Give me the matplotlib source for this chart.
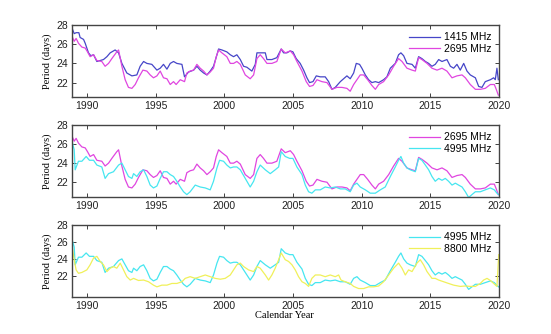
import matplotlib
matplotlib.use("Agg")
import matplotlib.pyplot as plt

# ---- data ----
yr_1415 = [1988.93, 1989.08, 1989.22, 1989.42, 1989.51, 1989.76, 1989.88, 1990.12, 1990.29, 1990.49,
           1990.73, 1990.97, 1991.21, 1991.46, 1991.70, 1992.06, 1992.31, 1992.55, 1992.91, 1993.28,
           1993.64, 1993.88, 1994.13, 1994.37, 1994.73, 1995.10, 1995.34, 1995.58, 1995.83, 1996.07,
           1996.31, 1996.55, 1996.92, 1997.11, 1997.40, 1997.77, 1998.01, 1998.25, 1998.50, 1998.74,
           1998.98, 1999.22, 1999.47, 1999.59, 1999.83, 2000.19, 2000.44, 2000.68, 2000.92, 2001.17,
           2001.41, 2001.65, 2002.01, 2002.26, 2002.38, 2002.62, 2002.99, 2003.11, 2003.47, 2003.83,
           2004.15, 2004.32, 2004.56, 2004.81, 2005.00, 2005.24, 2005.53, 2005.78, 2006.02, 2006.21,
           2006.46, 2006.70, 2006.99, 2007.35, 2007.60, 2007.84, 2008.08, 2008.45, 2008.69, 2008.93,
           2009.17, 2009.42, 2009.61, 2009.85, 2010.02, 2010.27, 2010.51, 2010.75, 2011.00, 2011.24,
           2011.60, 2011.84, 2012.09, 2012.45, 2012.69, 2012.86, 2013.06, 2013.30, 2013.67, 2013.91,
           2014.15, 2014.39, 2014.64, 2014.88, 2015.12, 2015.36, 2015.61, 2015.85, 2016.21, 2016.46,
           2016.70, 2016.94, 2017.18, 2017.43, 2017.67, 2017.91, 2018.28, 2018.52, 2018.76, 2019.00,
           2019.37, 2019.61, 2019.73, 2019.85, 2019.95]
p_1415 = [27.65, 27.1, 27.2, 27.2, 26.7, 26.5, 26.1, 25.1, 24.8, 24.9,
          24.2, 24.3, 24.4, 24.7, 25.1, 25.4, 25.1, 24.0, 23.0, 22.7,
          22.8, 23.7, 24.2, 24.0, 23.9, 23.3, 23.5, 23.9, 23.4, 24.0,
          24.2, 24.0, 23.9, 22.6, 23.1, 23.3, 23.7, 23.3, 23.0, 22.8,
          23.2, 23.7, 24.9, 25.5, 25.4, 25.2, 24.9, 24.7, 24.9, 24.4,
          23.7, 23.6, 23.2, 23.9, 25.1, 25.1, 25.1, 24.4, 24.4, 24.6,
          25.5, 25.1, 25.1, 25.3, 25.2, 24.5, 24.0, 23.3, 22.5, 22.0,
          22.1, 22.7, 22.6, 22.6, 22.1, 21.3, 21.5, 22.1, 22.4, 22.7,
          22.4, 23.0, 24.0, 23.9, 23.5, 22.8, 22.3, 22.0, 22.1, 22.0,
          22.3, 22.6, 23.5, 24.0, 24.9, 25.1, 24.8, 24.0, 23.9, 23.5,
          24.7, 24.5, 24.2, 24.0, 23.7, 23.9, 24.4, 24.2, 24.4, 23.7,
          23.5, 23.9, 23.3, 24.0, 23.2, 22.8, 22.5, 21.6, 21.5, 22.1,
          22.3, 22.5, 22.3, 23.5, 22.3]

yr_2695 = [1988.93, 1989.08, 1989.22, 1989.39, 1989.64, 1989.88, 1990.05, 1990.24, 1990.49, 1990.73,
           1991.09, 1991.33, 1991.58, 1991.82, 1992.18, 1992.31, 1992.55, 1992.79, 1993.03, 1993.28,
           1993.52, 1993.76, 1994.08, 1994.37, 1994.61, 1994.85, 1995.10, 1995.34, 1995.58, 1995.83,
           1996.07, 1996.31, 1996.50, 1996.80, 1997.11, 1997.28, 1997.52, 1997.77, 1998.01, 1998.25,
           1998.50, 1998.74, 1998.98, 1999.22, 1999.42, 1999.59, 1999.83, 2000.19, 2000.44, 2000.68,
           2000.92, 2001.17, 2001.53, 2001.89, 2002.14, 2002.38, 2002.62, 2002.86, 2003.11, 2003.47,
           2003.83, 2004.15, 2004.44, 2004.81, 2005.05, 2005.29, 2005.66, 2005.97, 2006.21, 2006.46,
           2006.75, 2007.11, 2007.48, 2007.84, 2008.20, 2008.57, 2008.93, 2009.17, 2009.42, 2009.66,
           2009.90, 2010.15, 2010.44, 2010.75, 2011.00, 2011.24, 2011.60, 2011.97, 2012.33, 2012.69,
           2012.94, 2013.30, 2013.67, 2013.91, 2014.15, 2014.39, 2014.76, 2015.12, 2015.49, 2015.85,
           2016.21, 2016.58, 2016.94, 2017.31, 2017.55, 2017.91, 2018.28, 2018.64, 2019.00, 2019.37,
           2019.66, 2019.80, 2019.95]
p_2695 = [26.8, 26.3, 26.6, 26.1, 25.7, 25.6, 25.2, 24.7, 24.9, 24.3,
          24.2, 23.7, 24.0, 24.5, 25.2, 25.4, 23.7, 22.3, 21.5, 21.4,
          21.8, 22.5, 23.3, 23.2, 22.8, 22.5, 22.7, 23.2, 22.5, 22.4,
          21.8, 22.1, 21.8, 22.3, 22.1, 23.0, 23.2, 23.3, 23.9, 23.5,
          23.2, 22.8, 23.1, 23.5, 24.7, 25.4, 25.1, 24.7, 24.0, 24.0,
          24.2, 23.9, 22.8, 22.4, 22.8, 24.5, 24.9, 24.5, 24.0, 24.0,
          24.2, 25.5, 25.1, 25.3, 24.9, 24.2, 23.2, 22.1, 21.6, 21.7,
          22.3, 22.1, 22.0, 21.3, 21.5, 21.5, 21.4, 21.1, 21.8, 22.3,
          22.8, 22.8, 22.3, 21.7, 21.3, 21.8, 22.1, 22.8, 23.7, 24.5,
          24.2, 23.5, 23.3, 23.2, 24.6, 24.4, 24.0, 23.5, 23.3, 23.5,
          23.2, 22.5, 22.7, 22.8, 22.5, 21.8, 21.3, 21.3, 21.4, 21.8,
          21.8, 21.3, 20.7]

yr_4995 = [1988.93, 1989.08, 1989.15, 1989.39, 1989.64, 1989.95, 1990.19, 1990.49, 1990.73, 1991.09,
           1991.33, 1991.58, 1991.94, 1992.31, 1992.55, 1992.79, 1993.03, 1993.28, 1993.40, 1993.64,
           1993.88, 1994.13, 1994.37, 1994.61, 1994.85, 1995.10, 1995.34, 1995.58, 1995.83, 1996.07,
           1996.31, 1996.55, 1996.80, 1997.04, 1997.28, 1997.52, 1997.89, 1998.25, 1998.62, 1998.98,
           1999.22, 1999.47, 1999.66, 1999.95, 2000.19, 2000.44, 2000.68, 2000.92, 2001.17, 2001.53,
           2001.89, 2002.14, 2002.38, 2002.62, 2002.99, 2003.35, 2003.71, 2003.96, 2004.15, 2004.44,
           2004.76, 2005.00, 2005.29, 2005.66, 2005.90, 2006.14, 2006.38, 2006.63, 2006.99, 2007.35,
           2007.72, 2008.08, 2008.45, 2008.81, 2009.17, 2009.42, 2009.66, 2009.90, 2010.27, 2010.63,
           2011.00, 2011.36, 2011.72, 2012.09, 2012.45, 2012.69, 2012.86, 2013.06, 2013.30, 2013.54,
           2013.91, 2014.15, 2014.39, 2014.64, 2014.88, 2015.12, 2015.36, 2015.61, 2015.85, 2016.09,
           2016.33, 2016.58, 2016.82, 2017.06, 2017.31, 2017.55, 2017.79, 2018.03, 2018.28, 2018.64,
           2019.00, 2019.37, 2019.66, 2019.85, 2019.97]
p_4995 = [26.25, 25.4, 23.3, 24.2, 24.2, 24.7, 24.3, 24.3, 23.8, 23.6,
          22.4, 22.9, 23.1, 23.8, 24.0, 23.3, 22.6, 22.4, 22.9, 22.6,
          23.1, 23.3, 22.6, 21.7, 21.4, 21.6, 22.4, 23.1, 23.1, 22.8,
          22.6, 22.1, 21.5, 21.0, 20.7, 21.0, 21.7, 21.5, 21.4, 21.2,
          22.1, 23.5, 24.3, 24.2, 23.8, 23.5, 23.6, 23.6, 23.3, 22.4,
          21.5, 22.1, 23.1, 23.8, 23.3, 22.9, 23.3, 23.6, 25.2, 24.7,
          24.5, 24.5, 23.6, 22.8, 21.7, 21.0, 20.85, 21.2, 21.2, 21.5,
          21.4, 21.5, 21.3, 21.3, 21.0, 21.7, 21.9, 21.5, 21.2, 20.85,
          20.85, 21.2, 21.5, 22.6, 23.6, 24.3, 24.7, 24.0, 23.5, 23.3,
          23.1, 24.5, 24.3, 23.8, 23.3, 22.6, 22.1, 22.4, 22.2, 22.4,
          22.1, 21.7, 21.9, 21.7, 21.5, 21.0, 20.4, 20.7, 21.0, 21.0,
          21.2, 21.4, 21.2, 20.85, 20.7]

yr_8800 = [1988.93, 1989.08, 1989.22, 1989.39, 1989.64, 1990.00, 1990.24, 1990.49, 1990.73, 1990.97,
           1991.21, 1991.46, 1991.70, 1991.94, 1992.18, 1992.43, 1992.67, 1992.91, 1993.16, 1993.40,
           1993.76, 1994.13, 1994.49, 1994.85, 1995.10, 1995.46, 1995.83, 1996.19, 1996.55, 1996.92,
           1997.16, 1997.52, 1997.89, 1998.25, 1998.62, 1998.98, 1999.34, 1999.71, 2000.07, 2000.44,
           2000.68, 2000.92, 2001.17, 2001.41, 2001.77, 2002.14, 2002.38, 2002.62, 2002.99, 2003.23,
           2003.47, 2003.71, 2003.96, 2004.15, 2004.44, 2004.68, 2004.93, 2005.17, 2005.41, 2005.66,
           2005.90, 2006.14, 2006.38, 2006.63, 2006.99, 2007.35, 2007.72, 2008.08, 2008.33, 2008.50,
           2008.81, 2009.17, 2009.42, 2009.78, 2010.15, 2010.51, 2010.87, 2011.24, 2011.60, 2011.97,
           2012.33, 2012.69, 2012.94, 2013.18, 2013.42, 2013.67, 2014.03, 2014.27, 2014.51, 2014.76,
           2015.12, 2015.36, 2015.61, 2015.97, 2016.33, 2016.70, 2017.18, 2017.55, 2017.91, 2018.28,
           2018.64, 2018.88, 2019.13, 2019.37, 2019.61, 2019.85, 2019.98]
p_8800 = [25.45, 23.9, 22.7, 22.3, 22.4, 22.7, 23.3, 24.1, 24.3, 23.7,
          23.3, 22.5, 22.9, 23.1, 22.9, 23.5, 22.7, 21.9, 21.5, 21.7,
          21.45, 21.5, 21.3, 20.9, 20.7, 20.9, 20.9, 21.1, 21.1, 21.3,
          21.7, 21.9, 21.7, 21.9, 22.1, 21.9, 21.7, 21.6, 21.7, 22.1,
          22.7, 23.3, 23.5, 23.1, 22.7, 22.5, 23.1, 22.9, 22.1, 21.5,
          22.1, 22.9, 23.9, 24.7, 23.9, 23.7, 23.3, 22.7, 21.9, 21.3,
          21.1, 20.75, 21.7, 22.1, 22.1, 21.9, 22.1, 21.9, 22.1, 21.5,
          21.3, 21.1, 20.75, 20.5, 20.5, 20.7, 20.7, 20.8, 21.3, 22.1,
          22.9, 23.5, 22.9, 22.1, 22.7, 22.5, 23.5, 23.9, 23.3, 22.5,
          21.7, 21.7, 21.5, 21.3, 21.1, 20.9, 20.75, 20.8, 20.75, 20.75,
          21.1, 21.5, 21.7, 21.45, 21.1, 20.75, 24.5]

xticks = [1990, 1995, 2000, 2005, 2010, 2015, 2020]
yticks = [22, 24, 26, 28]

C1415 = "#4646c8"
C2695 = "#e046e0"
C4995 = "#46e6f0"
C8800 = "#f0f05a"

plt.rcParams['font.family'] = ['Liberation Sans', 'DejaVu Sans']

fig = plt.figure(figsize=(5.51, 3.34), dpi=100)
W, H = 551.0, 334.0
left = 72 / W
width = (499 - 72) / W
panels = [
    (25, 97, (20.5, 28), [(yr_1415, p_1415, C1415, "1415 MHz"), (yr_2695, p_2695, C2695, "2695 MHz")]),
    (125, 197, (20.45, 28), [(yr_2695, p_2695, C2695, "2695 MHz"), (yr_4995, p_4995, C4995, "4995 MHz")]),
    (225, 297, (19.5, 28), [(yr_4995, p_4995, C4995, "4995 MHz"), (yr_8800, p_8800, C8800, "8800 MHz")]),
]
axes = []
for top, bot, ylim, series in panels:
    ax = fig.add_axes([left, 1 - bot / H, width, (bot - top) / H])
    for x, y, c, lab in series:
        ax.plot(x, y, color=c, lw=0.9, label=lab)
    ax.set_xlim(1988.92, 2020.0)
    ax.set_ylim(*ylim)
    ax.set_xticks(xticks)
    ax.set_yticks(yticks)
    ax.tick_params(direction='in', top=True, right=True, length=3, width=0.6,
                   labelsize=7.5, pad=3, colors='#222222')
    for s in ax.spines.values():
        s.set_linewidth(1.0)
        s.set_color('#444444')
    ax.set_ylabel("Period (days)", family='Liberation Serif', fontsize=7.5, labelpad=3)
    leg = ax.legend(loc='upper right', frameon=False, fontsize=7.5, handlelength=3.0,
                    handletextpad=0.4, labelspacing=0.15, borderaxespad=0.3)
    axes.append(ax)

fig.text((258 + 311) / 2 / W, 1 - 316 / H, "Calendar Year", family='Liberation Serif',
         fontsize=7.5, ha='center', va='center')

fig.savefig("out.png", dpi=100)
